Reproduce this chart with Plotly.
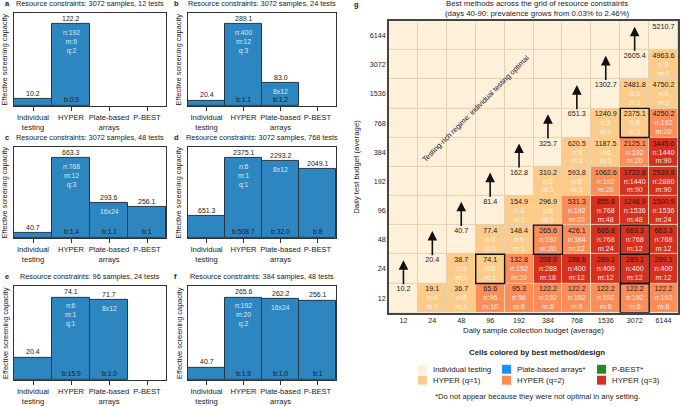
import plotly.graph_objects as go

W, H = 685, 406
FONT = "Liberation Sans, Arial, Helvetica, sans-serif"


def px(x):
    return x / W


def py(y):
    return 1 - y / H


# ---------------- data: bar panels a-f ----------------
methods = ["Individual<br>testing", "HYPER", "Plate-based<br>arrays", "P-BEST"]
panel_letters = ["a", "b", "c", "d", "e", "f"]
panel_samples = [3072, 3072, 3072, 3072, 96, 384]
panel_tests = [12, 24, 48, 768, 24, 48]
individual_cap = [10.2, 20.4, 40.7, 651.3, 20.4, 40.7]
hyper_cap = [122.2, 289.1, 663.3, 2375.1, 74.1, 265.6]
hyper_n = [192, 400, 768, 6, 6, 192]
hyper_m = [6, 12, 12, 1, 1, 20]
hyper_q = [2, 3, 3, 1, 1, 2]
hyper_b = ["0.9", "1.1", "1.4", "508.7", "15.9", "1.9"]
array_cap = [None, 83.0, 293.6, 2293.2, 71.7, 262.2]
array_design = [None, "8x12", "16x24", "8x12", "8x12", "16x24"]
array_b = [None, "1.2", "1.1", "32.0", "1.0", "1.0"]
pbest_cap = [None, None, 256.1, 2049.1, None, 256.1]
pbest_b = [None, None, "1", "8", None, "1"]

# ---------------- data: heatmap g ----------------
budget_labels = ["12", "24", "48", "96", "192", "384", "768", "1536", "3072", "6144"]
N_ = None
# rows: daily test budget 12 ... 6144 ; columns: daily samples 12 ... 6144
capacity = [
    [10.2, 19.1, 36.7, 65.6, 95.3, 122.2, 122.2, 122.2, 122.2, 122.2],
    [N_, 20.4, 38.7, 74.1, 132.8, 208.0, 288.6, 289.1, 289.1, 289.1],
    [N_, N_, 40.7, 77.4, 148.4, 265.6, 426.1, 605.8, 663.3, 663.3],
    [N_, N_, N_, 81.4, 154.9, 296.9, 531.3, 855.8, 1246.9, 1500.9],
    [N_, N_, N_, N_, 162.8, 310.2, 593.8, 1062.6, 1722.8, 2539.8],
    [N_, N_, N_, N_, N_, 325.7, 620.5, 1187.5, 2125.1, 3445.6],
    [N_, N_, N_, N_, N_, N_, 651.3, 1240.9, 2375.1, 4250.2],
    [N_, N_, N_, N_, N_, N_, N_, 1302.7, 2481.8, 4750.2],
    [N_, N_, N_, N_, N_, N_, N_, N_, 2605.4, 4963.6],
    [N_, N_, N_, N_, N_, N_, N_, N_, N_, 5210.7],
]
# 0 = individual testing, 1 = HYPER q=1, 2 = HYPER q=2, 3 = HYPER q=3
best_method = [
    [0, 1, 1, 2, 2, 2, 2, 2, 2, 2],
    [0, 0, 1, 1, 2, 3, 3, 3, 3, 3],
    [0, 0, 0, 1, 1, 2, 2, 3, 3, 3],
    [0, 0, 0, 0, 1, 1, 2, 3, 3, 3],
    [0, 0, 0, 0, 0, 1, 1, 2, 3, 3],
    [0, 0, 0, 0, 0, 0, 1, 1, 2, 3],
    [0, 0, 0, 0, 0, 0, 0, 1, 1, 2],
    [0, 0, 0, 0, 0, 0, 0, 0, 1, 1],
    [0, 0, 0, 0, 0, 0, 0, 0, 0, 1],
    [0, 0, 0, 0, 0, 0, 0, 0, 0, 0],
]
pool_n = [
    [N_, 4, 8, 96, 96, 192, 192, 192, 192, 192],
    [N_, N_, 3, 6, 192, 288, 400, 400, 400, 400],
    [N_, N_, N_, 3, 6, 192, 384, 768, 768, 768],
    [N_, N_, N_, N_, 3, 6, 192, 768, 1536, 1536],
    [N_, N_, N_, N_, N_, 3, 6, 192, 1440, 2880],
    [N_, N_, N_, N_, N_, N_, 3, 6, 192, 1440],
    [N_, N_, N_, N_, N_, N_, N_, 3, 6, 192],
    [N_, N_, N_, N_, N_, N_, N_, N_, 3, 6],
    [N_, N_, N_, N_, N_, N_, N_, N_, N_, 3],
    [N_] * 10,
]
pool_m = [
    [N_, 1, 1, 10, 6, 6, 6, 6, 6, 6],
    [N_, N_, 1, 1, 20, 18, 12, 12, 12, 12],
    [N_, N_, N_, 1, 1, 20, 22, 24, 12, 12],
    [N_, N_, N_, N_, 1, 1, 20, 48, 48, 24],
    [N_, N_, N_, N_, N_, 1, 1, 20, 90, 90],
    [N_, N_, N_, N_, N_, N_, 1, 1, 20, 90],
    [N_, N_, N_, N_, N_, N_, N_, 1, 1, 20],
    [N_, N_, N_, N_, N_, N_, N_, N_, 1, 1],
    [N_, N_, N_, N_, N_, N_, N_, N_, N_, 1],
    [N_] * 10,
]
legend_labels = ["Individual testing", "Plate-based arrays*", "P-BEST*",
                 "HYPER (q=1)", "HYPER (q=2)", "HYPER (q=3)"]

# ---------------- styles ----------------
BAR_COLOR = "#2e86c1"
C_IND, C_Q1, C_Q2, C_Q3 = "#fef0d9", "#fdcc8a", "#fc8d59", "#d7301f"
C_ARR, C_PB = "#1e90ff", "#228b22"
GRID = "#e2d2b4"
DARK = "#222222"

fig = go.Figure()
annotations = []
shapes = []
layout_axes = {}

col_x = [(14, 166), (188, 336)]
row_y = [(13, 107), (148, 240), (288, 383)]

for k in range(6):
    idx = k + 1
    xid = "x" if idx == 1 else f"x{idx}"
    yid = "y" if idx == 1 else f"y{idx}"
    xkey = "xaxis" if idx == 1 else f"xaxis{idx}"
    ykey = "yaxis" if idx == 1 else f"yaxis{idx}"
    cx = col_x[k % 2]
    ry = row_y[k // 2]
    vals = [individual_cap[k], hyper_cap[k], array_cap[k], pbest_cap[k]]
    vmax = max(v for v in vals if v is not None)

    fig.add_trace(go.Bar(
        x=methods, y=vals, xaxis=xid, yaxis=yid, width=1.0,
        marker=dict(color=BAR_COLOR, line=dict(color="#253746", width=1)),
        hoverinfo="skip", showlegend=False,
    ))
    layout_axes[xkey] = dict(
        domain=[px(cx[0]), px(cx[1])], anchor=yid, range=[-0.5, 3.5],
        showline=True, mirror=True, linecolor="#333", linewidth=1.3,
        ticks="outside", ticklen=4, tickcolor="#333", showgrid=False,
        tickfont=dict(size=7.6, color=DARK), type="category",
    )
    layout_axes[ykey] = dict(
        domain=[py(ry[1]), py(ry[0])], anchor=xid, range=[0, vmax * 1.14],
        showline=True, mirror=True, linecolor="#333", linewidth=1.3,
        showticklabels=False, ticks="", showgrid=False, zeroline=False,
    )

    inner = [None,
             f"n:{hyper_n[k]}<br>m:{hyper_m[k]}<br>q:{hyper_q[k]}",
             array_design[k], None]
    bottom = [None, f"b:{hyper_b[k]}",
              None if array_b[k] is None else f"b:{array_b[k]}",
              None if pbest_b[k] is None else f"b:{pbest_b[k]}"]
    for i, v in enumerate(vals):
        if v is None:
            continue
        annotations.append(dict(x=methods[i], y=v, xref=xid, yref=yid,
                                text=f"{v:.1f}", showarrow=False, yanchor="bottom",
                                yshift=0, font=dict(size=7, color=DARK)))
        if inner[i]:
            annotations.append(dict(x=methods[i], y=v, xref=xid, yref=yid,
                                    text=inner[i], showarrow=False, yanchor="top",
                                    yshift=-3, font=dict(size=6.8, color="#d8e8f6")))
        if bottom[i]:
            annotations.append(dict(x=methods[i], y=0, xref=xid, yref=yid,
                                    text=bottom[i], showarrow=False, yanchor="bottom",
                                    yshift=1, font=dict(size=6.8, color="#1a1a1a")))

    # panel title, letter, y-axis title
    annotations.append(dict(x=px((cx[0] + cx[1]) / 2), y=py(ry[0] - 9), xref="paper", yref="paper",
                            text=f"Resource constraints: {panel_samples[k]} samples, {panel_tests[k]} tests",
                            showarrow=False, xanchor="center", yanchor="middle",
                            font=dict(size=7.3, color=DARK)))
    annotations.append(dict(x=px(cx[0] - 11 if k % 2 == 0 else cx[0] - 16), y=py(ry[0] - 9),
                            xref="paper", yref="paper", text=f"<b>{panel_letters[k]}</b>",
                            showarrow=False, xanchor="left", yanchor="middle",
                            font=dict(size=7.5, color=DARK)))
    annotations.append(dict(x=px(cx[0] - 9), y=py((ry[0] + ry[1]) / 2), xref="paper", yref="paper",
                            text="Effective screening capacity", textangle=-90,
                            showarrow=False, xanchor="center", yanchor="middle",
                            font=dict(size=7.4, color=DARK)))

# ---------------- heatmap g ----------------
HX = (389, 678)
HY = (21, 315)
nb = len(budget_labels)
idxs = list(range(nb))
fig.add_trace(go.Heatmap(
    z=best_method, x=idxs, y=idxs, xaxis="x7", yaxis="y7",
    zmin=0, zmax=3, showscale=False, xgap=1, ygap=1, hoverinfo="skip",
    colorscale=[[0, C_IND], [1 / 6, C_IND], [1 / 6, C_Q1], [0.5, C_Q1],
                [0.5, C_Q2], [5 / 6, C_Q2], [5 / 6, C_Q3], [1, C_Q3]],
))
layout_axes["xaxis7"] = dict(
    domain=[px(HX[0]), px(HX[1])], anchor="y7", range=[-0.5, nb - 0.5],
    tickvals=idxs, ticktext=budget_labels, ticks="", showgrid=False, zeroline=False,
    showline=True, mirror=True, linecolor="#444", linewidth=1.8,
    tickfont=dict(size=7.2, color=DARK),
)
layout_axes["yaxis7"] = dict(
    domain=[py(HY[1]), py(HY[0])], anchor="x7", range=[-0.5, nb - 0.5],
    tickvals=idxs, ticktext=budget_labels, ticks="", showgrid=False, zeroline=False,
    showline=True, mirror=True, linecolor="#444", linewidth=1.8,
    tickfont=dict(size=7.2, color=DARK),
)
shapes.append(dict(type="rect", xref="x7", yref="y7", x0=-0.5, x1=nb - 0.5, y0=-0.5, y1=nb - 0.5,
                   fillcolor=GRID, line=dict(width=0), layer="below"))

vx, vy, vt, nx, ny, nt = [], [], [], [], [], []
for j in range(nb):
    for i in range(nb):
        v = capacity[j][i]
        if v is None:
            continue
        vx.append(i); vy.append(j + 0.29); vt.append(f"{v:.1f}")
        if pool_n[j][i] is not None:
            nx.append(i); ny.append(j - 0.02); nt.append(f"n:{pool_n[j][i]}")
            nx.append(i); ny.append(j - 0.32); nt.append(f"m:{pool_m[j][i]}")
fig.add_trace(go.Scatter(x=vx, y=vy, text=vt, mode="text", xaxis="x7", yaxis="y7",
                         textfont=dict(size=7.2, color="#1a1a1a", family=FONT),
                         hoverinfo="skip", showlegend=False))
fig.add_trace(go.Scatter(x=nx, y=ny, text=nt, mode="text", xaxis="x7", yaxis="y7",
                         textfont=dict(size=7.2, color="rgba(255,255,255,0.92)", family=FONT),
                         hoverinfo="skip", showlegend=False))

# arrows: from the diagonal (samples == tests) cell up into the next row
for i in range(nb - 1):
    annotations.append(dict(x=i, y=i + 1.3, ax=i, ay=i + 0.42, xref="x7", yref="y7",
                            axref="x7", ayref="y7", text="", showarrow=True,
                            arrowhead=2, arrowsize=1.2, arrowwidth=1.6, arrowcolor="#111"))

# boxes for the settings shown in panels a-f
for s, t in zip(panel_samples, panel_tests):
    i = budget_labels.index(str(s))
    j = budget_labels.index(str(t))
    shapes.append(dict(type="rect", xref="x7", yref="y7", x0=i - 0.5, x1=i + 0.5,
                       y0=j - 0.5, y1=j + 0.5, line=dict(color="#111", width=1.4)))

annotations.append(dict(x=2.5, y=6.5, xref="x7", yref="y7", textangle=-45,
                        text="Testing-rich regime: individual testing optimal",
                        showarrow=False, font=dict(size=7.4, color=DARK)))

# heatmap titles
annotations.append(dict(x=px(537), y=py(9), xref="paper", yref="paper",
                        text="Best methods across the grid of resource constraints<br>(days 40-90: prevalence grows from 0.03% to 2.46%)",
                        showarrow=False, xanchor="center", yanchor="middle",
                        font=dict(size=7.8, color=DARK)))
annotations.append(dict(x=px(352), y=py(5), xref="paper", yref="paper", text="<b>g</b>",
                        showarrow=False, xanchor="left", yanchor="middle",
                        font=dict(size=7.5, color=DARK)))
annotations.append(dict(x=px(357), y=py((HY[0] + HY[1]) / 2), xref="paper", yref="paper",
                        text="Daily test budget (average)", textangle=-90, showarrow=False,
                        xanchor="center", yanchor="middle", font=dict(size=7.8, color=DARK)))
annotations.append(dict(x=px((HX[0] + HX[1]) / 2), y=py(333), xref="paper", yref="paper",
                        text="Daily sample collection budget (average)", showarrow=False,
                        xanchor="center", yanchor="middle", font=dict(size=7.8, color=DARK)))

# legend
annotations.append(dict(x=px(537), y=py(355), xref="paper", yref="paper",
                        text="<b>Cells colored by best method/design</b>", showarrow=False,
                        xanchor="center", yanchor="middle", font=dict(size=7.8, color=DARK)))
leg_colors = [C_IND, C_ARR, C_PB, C_Q1, C_Q2, C_Q3]
leg_x = [418, 502, 597]
leg_y = [372, 383]
for k, (lab, col) in enumerate(zip(legend_labels, leg_colors)):
    x0 = leg_x[k % 3]
    yc = leg_y[k // 3]
    shapes.append(dict(type="rect", xref="paper", yref="paper", x0=px(x0), x1=px(x0 + 9),
                       y0=py(yc + 4.5), y1=py(yc - 4.5), fillcolor=col, line=dict(width=0)))
    annotations.append(dict(x=px(x0 + 13), y=py(yc), xref="paper", yref="paper", text=lab,
                            showarrow=False, xanchor="left", yanchor="middle",
                            font=dict(size=7.8, color=DARK)))
annotations.append(dict(x=px(537), y=py(399), xref="paper", yref="paper",
                        text="*Do not appear because they were not optimal in any setting.",
                        showarrow=False, xanchor="center", yanchor="middle",
                        font=dict(size=7.6, color=DARK)))

fig.update_layout(
    width=W, height=H, margin=dict(l=0, r=0, t=0, b=0),
    paper_bgcolor="white", plot_bgcolor="white",
    font=dict(family=FONT, size=7.5, color=DARK),
    showlegend=False, bargap=0,
    annotations=annotations, shapes=shapes,
    **layout_axes,
)

fig.write_html("out.html", config={"displayModeBar": False},
               post_script="document.body.style.margin='0px';document.body.style.overflow='hidden';")
